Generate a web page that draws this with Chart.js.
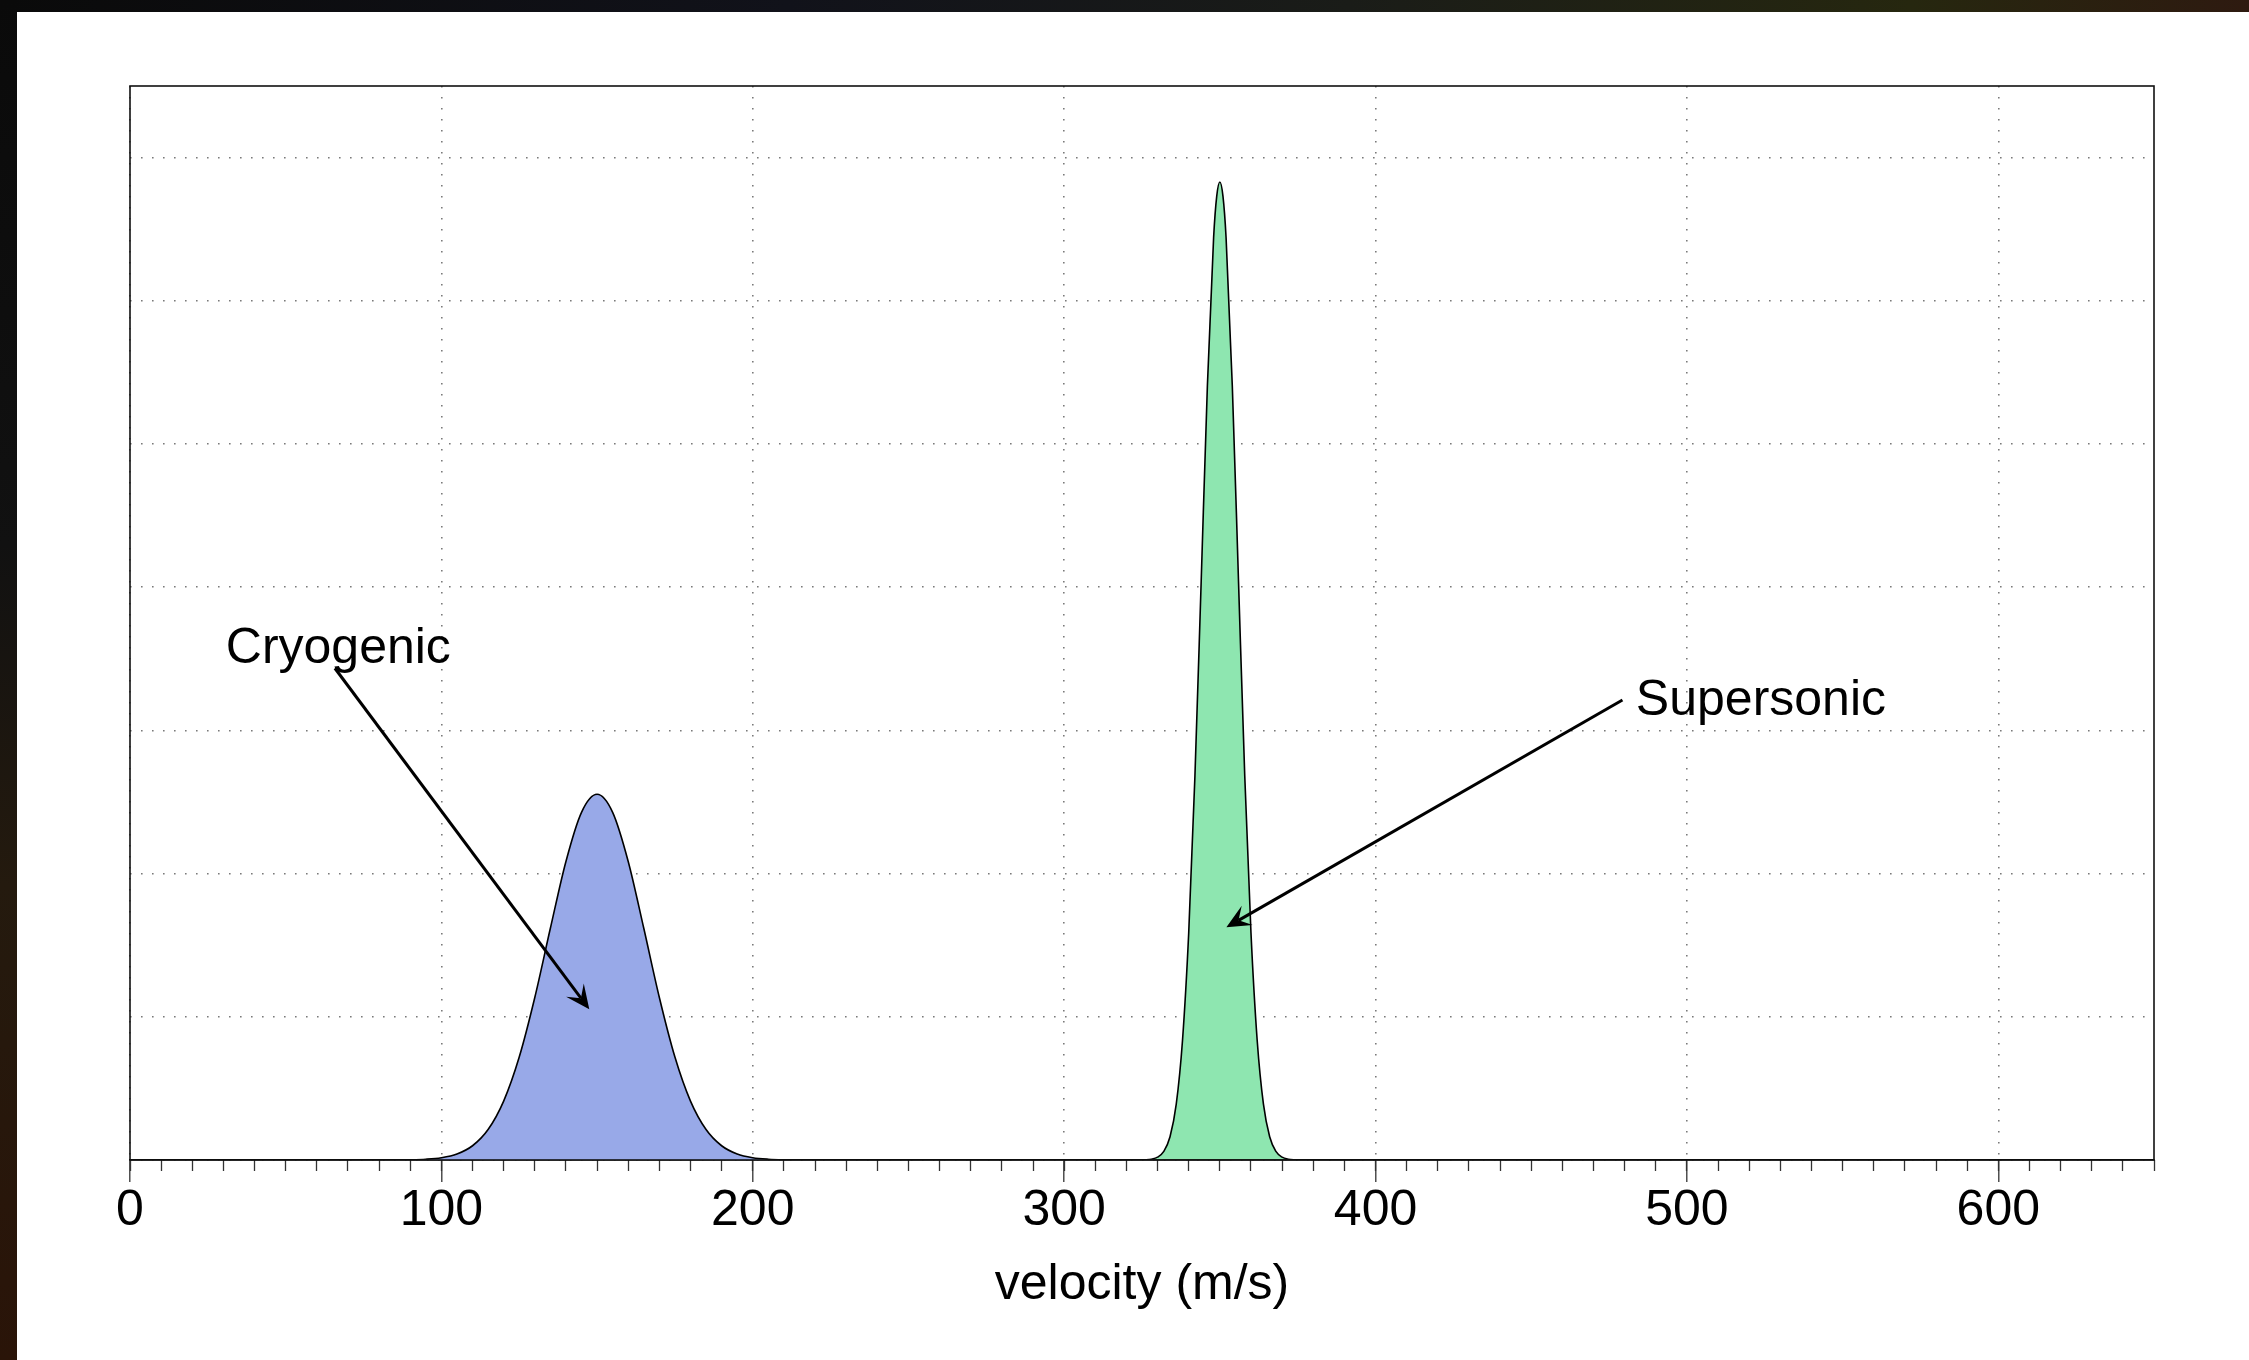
<!DOCTYPE html>
<html>
<head>
<meta charset="utf-8">
<script src="https://cdn.jsdelivr.net/npm/chart.js@4.4.1/dist/chart.umd.min.js"></script>
<style>
  html, body { margin: 0; padding: 0; }
  body {
    width: 2249px; height: 1360px; overflow: hidden; position: relative;
    background: linear-gradient(90deg, #0a0a0a 0%, #11121a 35%, #1a1c18 60%, #26270f 85%, #2e1a10 100%);
  }
  #leftband {
    position: absolute; left: 0; top: 0; width: 17px; height: 1360px;
    background: linear-gradient(180deg, #0a0a0a 0%, #111111 40%, #241a0e 65%, #2a1408 100%);
  }
  #panel { position: absolute; left: 17px; top: 12px; width: 2232px; height: 1348px; background: #fff; }
</style>
</head>
<body>
<div id="leftband"></div>
<div id="panel"><canvas id="chart" width="2232" height="1348"></canvas></div>
<script>
// Valeurs (densité en fonction de la vitesse)
const cryoX = [0, 80, 90, 95, 100, 105, 110, 115, 120, 125, 130, 135, 140, 145, 150, 155, 160, 165, 170, 175, 180, 185, 190, 195, 200, 205, 210, 220, 650];
const cryoY = [0, 0.000001, 0.000017, 0.000055, 0.00016, 0.00042, 0.000995, 0.002128, 0.004115, 0.00719, 0.01135, 0.01618, 0.02085, 0.02428, 0.02554,
               0.02428, 0.02085, 0.01618, 0.01135, 0.00719, 0.004115, 0.002128, 0.000995, 0.00042, 0.00016, 0.000055, 0.000017, 0.000001, 0];

const superX = [0, 324, 326, 328, 330, 332, 334, 336, 338, 340, 342, 344, 346, 348, 349, 350, 351, 352, 354, 356, 358, 360, 362, 364, 366, 368, 370, 372, 374, 376, 650];
const superY = [0, 0.000004, 0.000015, 0.000058, 0.000198, 0.000601, 0.001623, 0.003897, 0.00833, 0.01585, 0.02681, 0.04037, 0.05407, 0.06442, 0.06731, 0.0683,
                0.06731, 0.06442, 0.05407, 0.04037, 0.02681, 0.01585, 0.00833, 0.003897, 0.001623, 0.000601, 0.000198, 0.000058, 0.000015, 0.000004, 0];

const xTitle = 'velocity (m/s)';

// Annotations (coordonnées dans le repère des données)
const annotations = [
  { text: 'Cryogenic', textX: 66.9, textY: 0.03469, align: 'center', fromX: 65.8, fromY: 0.03434, toX: 147.5, toY: 0.01052 },
  { text: 'Supersonic', textX: 483.6, textY: 0.03108, align: 'left', fromX: 479.3, fromY: 0.03212, toX: 352.1, toY: 0.01625 }
];

const FONT = "'Liberation Sans', Arial, Helvetica, sans-serif";
Chart.defaults.font.family = FONT;
Chart.defaults.color = '#000';

function toPoints(xs, ys) {
  return xs.map((v, i) => ({ x: v, y: ys[i] }));
}

// Cadre complet autour de la zone du graphique
const framePlugin = {
  id: 'frame',
  afterDatasetsDraw(chart) {
    const { ctx, chartArea: a } = chart;
    ctx.save();
    ctx.strokeStyle = '#111';
    ctx.lineWidth = 1.6;
    ctx.strokeRect(a.left, a.top, a.right - a.left, a.bottom - a.top);
    ctx.restore();
  }
};

// Textes + flèches
const arrowPlugin = {
  id: 'arrows',
  afterDatasetsDraw(chart) {
    const { ctx, scales: { x, y } } = chart;
    ctx.save();
    annotations.forEach(a => {
      ctx.font = '50px ' + FONT;
      ctx.fillStyle = '#000';
      ctx.textAlign = a.align;
      ctx.textBaseline = 'alphabetic';
      ctx.fillText(a.text, x.getPixelForValue(a.textX), y.getPixelForValue(a.textY));

      const x0 = x.getPixelForValue(a.fromX), y0 = y.getPixelForValue(a.fromY);
      const x1 = x.getPixelForValue(a.toX), y1 = y.getPixelForValue(a.toY);
      const ang = Math.atan2(y1 - y0, x1 - x0);
      const ux = Math.cos(ang), uy = Math.sin(ang);
      const L = 24, W = 11, N = 14;
      ctx.strokeStyle = '#000';
      ctx.lineWidth = 3;
      ctx.beginPath();
      ctx.moveTo(x0, y0);
      ctx.lineTo(x1 - ux * N, y1 - uy * N);
      ctx.stroke();
      ctx.beginPath();
      ctx.moveTo(x1, y1);
      ctx.lineTo(x1 - ux * L - uy * W, y1 - uy * L + ux * W);
      ctx.lineTo(x1 - ux * N, y1 - uy * N);
      ctx.lineTo(x1 - ux * L + uy * W, y1 - uy * L - ux * W);
      ctx.closePath();
      ctx.fill();
    });
    ctx.restore();
  }
};

const dots = [1.6, 9.4];

new Chart(document.getElementById('chart'), {
  type: 'line',
  data: {
    datasets: [
      {
        label: 'Cryogenic',
        data: toPoints(cryoX, cryoY),
        xAxisID: 'x',
        borderColor: '#000',
        borderWidth: 1.6,
        backgroundColor: '#98a9e8',
        fill: 'origin',
        pointRadius: 0,
        cubicInterpolationMode: 'monotone'
      },
      {
        label: 'Supersonic',
        data: toPoints(superX, superY),
        xAxisID: 'x',
        borderColor: '#000',
        borderWidth: 1.6,
        backgroundColor: '#8ee6b0',
        fill: 'origin',
        pointRadius: 0,
        cubicInterpolationMode: 'monotone'
      }
    ]
  },
  options: {
    responsive: false,
    animation: false,
    devicePixelRatio: 1,
    layout: { padding: { left: 113, right: 95, top: 74, bottom: 0 } },
    plugins: {
      legend: { display: false },
      tooltip: { enabled: false }
    },
    scales: {
      xMinor: {
        type: 'linear',
        position: 'bottom',
        weight: 0,
        min: 0,
        max: 650,
        ticks: { display: false, stepSize: 10, autoSkip: false },
        grid: { drawOnChartArea: false, tickLength: 11, tickColor: '#333', tickWidth: 1.3 },
        border: { display: false },
        afterFit: s => { s.height = 0; }
      },
      x: {
        type: 'linear',
        position: 'bottom',
        weight: 1,
        min: 0,
        max: 650,
        ticks: {
          stepSize: 100,
          includeBounds: false,
          autoSkip: false,
          maxRotation: 0,
          padding: 0,
          color: '#000',
          font: { size: 50, lineHeight: 1.15 }
        },
        grid: { color: '#7a7a7a', lineWidth: 1.6, borderDash: dots, tickLength: 22, tickColor: '#333', tickWidth: 1.3 },
        border: { display: true, color: '#000', width: 1.6, dash: dots },
        title: {
          display: true,
          text: xTitle,
          color: '#000',
          font: { size: 50, lineHeight: 1.2 },
          padding: { top: 0, bottom: 45 }
        },
        afterFit: s => { s.height = 200; }
      },
      y: {
        type: 'linear',
        min: 0,
        max: 0.075,
        ticks: { display: false, stepSize: 0.01, includeBounds: false },
        grid: { color: '#7a7a7a', lineWidth: 1.6, borderDash: dots, drawTicks: false },
        border: { display: false, dash: dots },
        afterFit: s => { s.width = 0; }
      }
    }
  },
  plugins: [framePlugin, arrowPlugin]
});
</script>
</body>
</html>
